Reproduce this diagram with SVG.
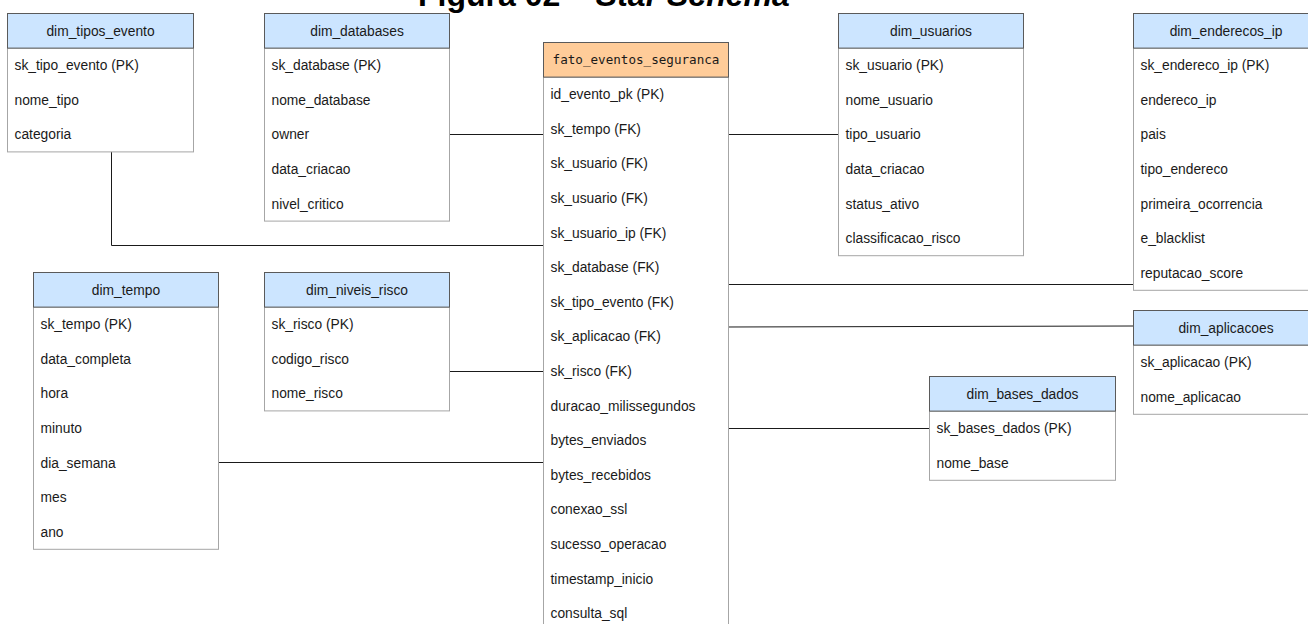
<svg xmlns="http://www.w3.org/2000/svg" width="1308" height="624" viewBox="0 0 1308 624">
<style>
.hd{fill:#cce5ff;stroke:#5a5a5a;stroke-width:1}
.hf{fill:#ffcc99;stroke:#5a5a5a;stroke-width:1}
.bd{fill:#ffffff;stroke:#a6a6a6;stroke-width:1}
.t{font-family:"Liberation Sans",Arial,sans-serif;font-size:13.8px;fill:#1a1a1a}
.th{font-family:"Liberation Sans",Arial,sans-serif;font-size:13.8px;fill:#1a1a1a;text-anchor:middle}
.tm{font-family:"DejaVu Sans Mono","Liberation Mono",monospace;font-size:12.6px;fill:#1a1a1a;text-anchor:middle}
.title{font-family:"Liberation Sans",Arial,sans-serif;font-size:32px;font-weight:bold;fill:#000}
.c{fill:none;stroke:#1a1a1a;stroke-width:1}
</style>
<rect width="1308" height="624" fill="#ffffff"/>
<text class="title" x="418" y="6">Figura 02 – <tspan font-style="italic">Star Schema</tspan></text>

<g id="connectors">
<path class="c" d="M449,134.5 H543"/>
<path class="c" d="M728,134.5 H838"/>
<path class="c" d="M111.5,151.4 V245.5 H543"/>
<path class="c" d="M449,371.5 H543"/>
<path class="c" d="M218,462.5 H547"/>
<path class="c" d="M728,284.5 H1133"/>
<path class="c" d="M725,327 L1133,326"/>
<path class="c" d="M728,428.5 H929"/>
</g>

<g id="dim_tipos_evento" transform="translate(7.5,13.5)">
<rect class="bd" x="0" y="34.6" width="186" height="103.8"/>
<rect class="hd" x="0" y="0" width="186" height="34.6"/>
<text class="th" x="93" y="22.1">dim_tipos_evento</text>
<text class="t" x="7" y="56.7">sk_tipo_evento (PK)</text>
<text class="t" x="7" y="91.3">nome_tipo</text>
<text class="t" x="7" y="125.9">categoria</text>
</g>

<g id="dim_databases" transform="translate(264.5,13.5)">
<rect class="bd" x="0" y="34.6" width="185" height="173"/>
<rect class="hd" x="0" y="0" width="185" height="34.6"/>
<text class="th" x="92.5" y="22.1">dim_databases</text>
<text class="t" x="7" y="56.7">sk_database (PK)</text>
<text class="t" x="7" y="91.3">nome_database</text>
<text class="t" x="7" y="125.9">owner</text>
<text class="t" x="7" y="160.5">data_criacao</text>
<text class="t" x="7" y="195.1">nivel_critico</text>
</g>

<g id="fato_eventos_seguranca" transform="translate(543.5,42.5)">
<rect class="bd" x="0" y="34.6" width="185" height="553.6"/>
<rect class="hf" x="0" y="0" width="185" height="34.6"/>
<text class="tm" x="92.5" y="21.8">fato_eventos_seguranca</text>
<text class="t" x="7" y="56.7">id_evento_pk (PK)</text>
<text class="t" x="7" y="91.3">sk_tempo (FK)</text>
<text class="t" x="7" y="125.9">sk_usuario (FK)</text>
<text class="t" x="7" y="160.5">sk_usuario (FK)</text>
<text class="t" x="7" y="195.1">sk_usuario_ip (FK)</text>
<text class="t" x="7" y="229.7">sk_database (FK)</text>
<text class="t" x="7" y="264.3">sk_tipo_evento (FK)</text>
<text class="t" x="7" y="298.9">sk_aplicacao (FK)</text>
<text class="t" x="7" y="333.5">sk_risco (FK)</text>
<text class="t" x="7" y="368.1">duracao_milissegundos</text>
<text class="t" x="7" y="402.7">bytes_enviados</text>
<text class="t" x="7" y="437.3">bytes_recebidos</text>
<text class="t" x="7" y="471.9">conexao_ssl</text>
<text class="t" x="7" y="506.5">sucesso_operacao</text>
<text class="t" x="7" y="541.1">timestamp_inicio</text>
<text class="t" x="7" y="575.7">consulta_sql</text>
</g>

<g id="dim_usuarios" transform="translate(838.5,13.5)">
<rect class="bd" x="0" y="34.6" width="185" height="207.6"/>
<rect class="hd" x="0" y="0" width="185" height="34.6"/>
<text class="th" x="92.5" y="22.1">dim_usuarios</text>
<text class="t" x="7" y="56.7">sk_usuario (PK)</text>
<text class="t" x="7" y="91.3">nome_usuario</text>
<text class="t" x="7" y="125.9">tipo_usuario</text>
<text class="t" x="7" y="160.5">data_criacao</text>
<text class="t" x="7" y="195.1">status_ativo</text>
<text class="t" x="7" y="229.7">classificacao_risco</text>
</g>

<g id="dim_enderecos_ip" transform="translate(1133.5,13.5)">
<rect class="bd" x="0" y="34.6" width="185" height="242.2"/>
<rect class="hd" x="0" y="0" width="185" height="34.6"/>
<text class="th" x="92.5" y="22.1">dim_enderecos_ip</text>
<text class="t" x="7" y="56.7">sk_endereco_ip (PK)</text>
<text class="t" x="7" y="91.3">endereco_ip</text>
<text class="t" x="7" y="125.9">pais</text>
<text class="t" x="7" y="160.5">tipo_endereco</text>
<text class="t" x="7" y="195.1">primeira_ocorrencia</text>
<text class="t" x="7" y="229.7">e_blacklist</text>
<text class="t" x="7" y="264.3">reputacao_score</text>
</g>

<g id="dim_tempo" transform="translate(33.5,272.5)">
<rect class="bd" x="0" y="34.6" width="185" height="242.2"/>
<rect class="hd" x="0" y="0" width="185" height="34.6"/>
<text class="th" x="92.5" y="22.1">dim_tempo</text>
<text class="t" x="7" y="56.7">sk_tempo (PK)</text>
<text class="t" x="7" y="91.3">data_completa</text>
<text class="t" x="7" y="125.9">hora</text>
<text class="t" x="7" y="160.5">minuto</text>
<text class="t" x="7" y="195.1">dia_semana</text>
<text class="t" x="7" y="229.7">mes</text>
<text class="t" x="7" y="264.3">ano</text>
</g>

<g id="dim_niveis_risco" transform="translate(264.5,272.5)">
<rect class="bd" x="0" y="34.6" width="185" height="103.8"/>
<rect class="hd" x="0" y="0" width="185" height="34.6"/>
<text class="th" x="92.5" y="22.1">dim_niveis_risco</text>
<text class="t" x="7" y="56.7">sk_risco (PK)</text>
<text class="t" x="7" y="91.3">codigo_risco</text>
<text class="t" x="7" y="125.9">nome_risco</text>
</g>

<g id="dim_aplicacoes" transform="translate(1133.5,310.5)">
<rect class="bd" x="0" y="34.6" width="185" height="69.2"/>
<rect class="hd" x="0" y="0" width="185" height="34.6"/>
<text class="th" x="92.5" y="22.1">dim_aplicacoes</text>
<text class="t" x="7" y="56.7">sk_aplicacao (PK)</text>
<text class="t" x="7" y="91.3">nome_aplicacao</text>
</g>

<g id="dim_bases_dados" transform="translate(929.5,376.5)">
<rect class="bd" x="0" y="34.6" width="186" height="69.2"/>
<rect class="hd" x="0" y="0" width="186" height="34.6"/>
<text class="th" x="93" y="22.1">dim_bases_dados</text>
<text class="t" x="7" y="56.7">sk_bases_dados (PK)</text>
<text class="t" x="7" y="91.3">nome_base</text>
</g>
</svg>
